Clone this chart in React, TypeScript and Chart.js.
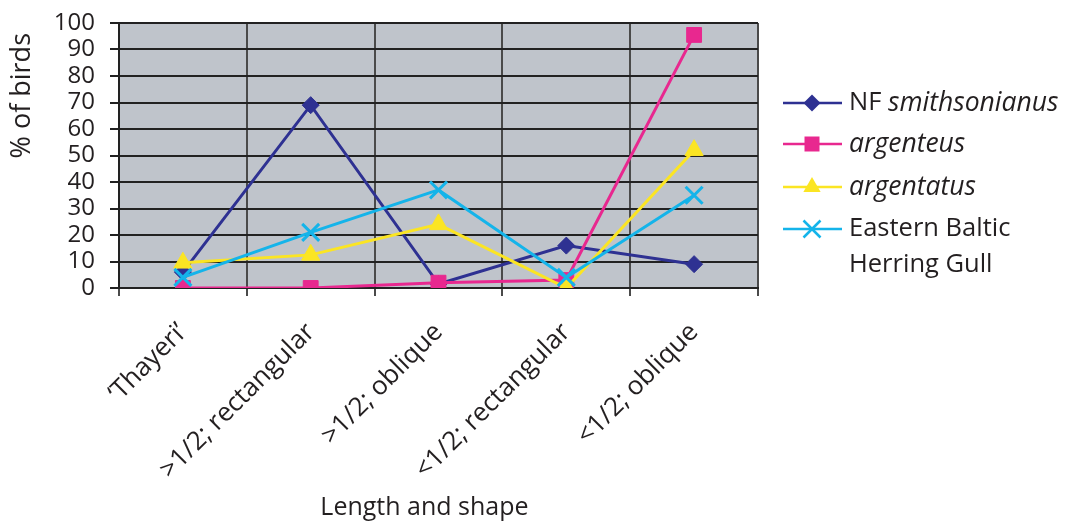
import React, { useEffect, useRef } from "react";
import { Chart, registerables } from "chart.js";

Chart.register(...registerables);

const categories = ["\u2018Thayeri\u2019", ">1/2; rectangular", ">1/2; oblique", "<1/2; rectangular", "<1/2; oblique"];
const nfSmithsonianus = [6, 69, 1.5, 16, 9];
const argenteus = [0, 0, 2, 3, 95.5];
const argentatus = [9.5, 12.5, 24, 0, 52];
const easternBaltic = [4, 21, 37, 4, 35];
const yTicks = [0, 10, 20, 30, 40, 50, 60, 70, 80, 90, 100];
const xTitle = "Length and shape";
const yTitle = "% of birds";

const FONT = "'Open Sans', 'Noto Sans', sans-serif";
const TEXT = "#231f20";
const NAVY = "#2e3192";
const PINK = "#e8288f";
const YELLOW = "#fbe523";
const CYAN = "#14b4ea";

type LegendItem = { prefix: string; italic: string; lines: string[]; color: string; shape: string };
const legendItems: LegendItem[] = [
  { prefix: "NF ", italic: "smithsonianus", lines: [], color: NAVY, shape: "diamond" },
  { prefix: "", italic: "argenteus", lines: [], color: PINK, shape: "square" },
  { prefix: "", italic: "argentatus", lines: [], color: YELLOW, shape: "triangle" },
  { prefix: "", italic: "", lines: ["Eastern Baltic", "Herring Gull"], color: CYAN, shape: "cross" },
];

function drawMarker(ctx: CanvasRenderingContext2D, shape: string, x: number, y: number, color: string) {
  ctx.save();
  ctx.fillStyle = color;
  ctx.strokeStyle = color;
  ctx.beginPath();
  if (shape === "diamond") {
    const r = 8.5;
    ctx.moveTo(x, y - r); ctx.lineTo(x + r, y); ctx.lineTo(x, y + r); ctx.lineTo(x - r, y); ctx.closePath(); ctx.fill();
  } else if (shape === "square") {
    const s = 7.5;
    ctx.rect(x - s, y - s, 2 * s, 2 * s); ctx.fill();
  } else if (shape === "triangle") {
    const r = 10;
    ctx.moveTo(x, y - r);
    ctx.lineTo(x + r * 0.866, y + r / 2);
    ctx.lineTo(x - r * 0.866, y + r / 2);
    ctx.closePath(); ctx.fill();
  } else {
    const h = 8.5;
    ctx.lineWidth = 2.5;
    ctx.moveTo(x - h, y - h); ctx.lineTo(x + h, y + h);
    ctx.moveTo(x + h, y - h); ctx.lineTo(x - h, y + h);
    ctx.stroke();
  }
  ctx.restore();
}

const bgPlugin = {
  id: "plotBg",
  beforeDraw(chart: any) {
    const { ctx, chartArea } = chart;
    ctx.save();
    ctx.fillStyle = "#bfc4cb";
    ctx.fillRect(chartArea.left, chartArea.top, chartArea.right - chartArea.left, chartArea.bottom - chartArea.top);
    ctx.restore();
  },
};

const textPlugin = {
  id: "customText",
  afterDraw(chart: any) {
    const ctx: CanvasRenderingContext2D = chart.ctx;
    const rowYs = [103, 144, 187, 229];
    const lineX0 = 783, lineX1 = 842, markX = 812, textX = 849;
    ctx.save();
    ctx.textBaseline = "middle";
    ctx.fillStyle = TEXT;
    legendItems.forEach((it, i) => {
      const y = rowYs[i];
      ctx.strokeStyle = it.color;
      ctx.lineWidth = 2.5;
      ctx.beginPath();
      ctx.moveTo(lineX0, y);
      ctx.lineTo(lineX1, y);
      ctx.stroke();
      drawMarker(ctx, it.shape, markX, y, it.color);
      ctx.fillStyle = TEXT;
      let x = textX;
      if (it.prefix) {
        ctx.font = `25.5px ${FONT}`;
        ctx.fillText(it.prefix, x, y);
        x += ctx.measureText(it.prefix).width;
      }
      if (it.italic) {
        ctx.font = `italic 26.5px ${FONT}`;
        ctx.fillText(it.italic, x, y);
      }
      it.lines.forEach((ln, j) => {
        ctx.font = `25.5px ${FONT}`;
        ctx.fillText(ln, textX, y + j * 36);
      });
    });
    // axis titles
    const area = chart.chartArea;
    ctx.font = `25px ${FONT}`;
    ctx.textAlign = "center";
    ctx.textBaseline = "middle";
    ctx.fillText(xTitle, area.left + (area.right - area.left) * 0.478, 508);
    ctx.translate(22, 33);
    ctx.rotate(-Math.PI / 2);
    ctx.font = `27px ${FONT}`;
    ctx.textAlign = "right";
    ctx.fillText(yTitle, 0, 0);
    ctx.restore();
  },
};

export default function App() {
  const ref = useRef<HTMLCanvasElement | null>(null);
  useEffect(() => {
    document.body.style.margin = "0";
    const canvas = ref.current;
    if (!canvas) return;
    const mk = (label: string, data: number[], color: string, style: any, radius: number, order: number) => ({
      label,
      data,
      borderColor: color,
      backgroundColor: color,
      borderWidth: 3,
      pointStyle: style,
      pointRadius: radius,
      pointHoverRadius: radius,
      pointBorderWidth: style === "crossRot" ? 3 : 1,
      pointBorderColor: color,
      pointBackgroundColor: color,
      tension: 0,
      order,
    });
    const chart = new Chart(canvas, {
      type: "line",
      data: {
        labels: categories,
        datasets: [
          mk("NF smithsonianus", nfSmithsonianus, NAVY, "rectRot", 8.5, 4),
          mk("argenteus", argenteus, PINK, "rect", 10.5, 3),
          mk("argentatus", argentatus, YELLOW, "triangle", 10.5, 2),
          mk("Eastern Baltic Herring Gull", easternBaltic, CYAN, "crossRot", 12, 1),
        ],
      },
      options: {
        animation: false,
        responsive: false,
        devicePixelRatio: 1,
        layout: { padding: { left: 0, right: 310, top: 23, bottom: 0 } },
        plugins: { legend: { display: false }, tooltip: { enabled: false } },
        events: [],
        scales: {
          x: {
            type: "category",
            offset: true,
            grid: { offset: true, color: "#4a4a4a", lineWidth: 2, tickLength: 8, drawTicks: true },
            border: { color: "#222", width: 2 },
            ticks: {
              color: TEXT,
              font: { family: FONT, size: 26 },
              minRotation: 45,
              maxRotation: 45,
              autoSkip: false,
              padding: 21,
              labelOffset: 0,
            },
            title: { display: false, text: xTitle },
            afterFit: (s: any) => { s.height = 237; s.paddingLeft = 0; s.paddingRight = 0; },
          },
          y: {
            min: 0,
            max: 100,
            afterBuildTicks: (s: any) => { s.ticks = yTicks.map((v) => ({ value: v })); },
            grid: { color: "#222", lineWidth: 2, tickLength: 9 },
            border: { color: "#222", width: 2 },
            ticks: { color: TEXT, font: { family: FONT, size: 24 }, padding: 15, autoSkip: false, stepSize: 10 },
            title: { display: false, text: yTitle },
            afterFit: (s: any) => { s.width = 119; s.paddingTop = 0; s.paddingBottom = 0; },
          },
        },
      },
      plugins: [bgPlugin, textPlugin],
    } as any);
    return () => chart.destroy();
  }, []);
  return (
    <div style={{ width: 1068, height: 525 }}>
      <canvas ref={ref} width={1068} height={525} style={{ display: "block" }} />
    </div>
  );
}
